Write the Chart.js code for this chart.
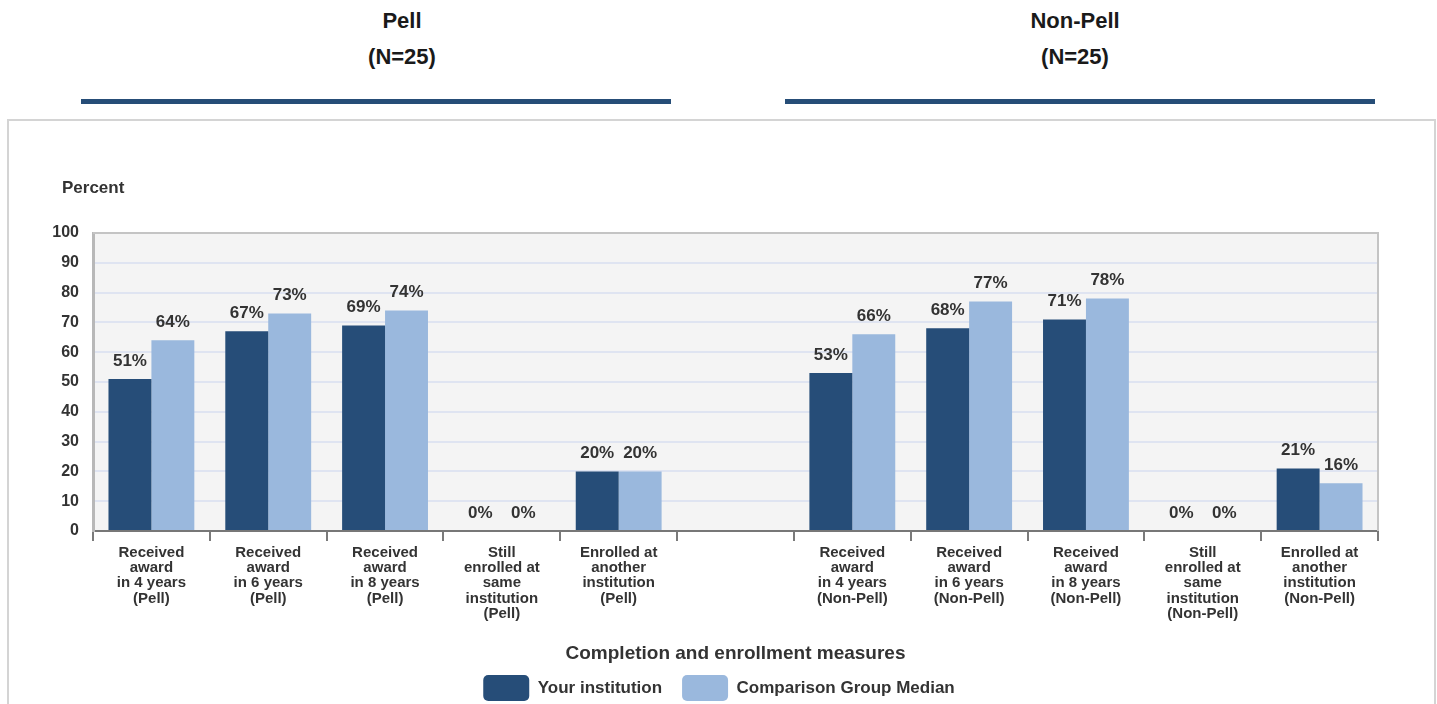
<!DOCTYPE html>
<html>
<head>
<meta charset="utf-8">
<script src="https://cdn.jsdelivr.net/npm/chart.js@4"></script>
<style>
  body { margin: 0; width: 1437px; height: 704px; background: #fff; overflow: hidden;
         font-family: "Liberation Sans", Arial, sans-serif; color: #1a1a1a; }
  .head { position: absolute; width: 300px; text-align: center; font-weight: bold; font-size: 22px; line-height: 36px; }
  .rule { position: absolute; top: 99px; height: 5px; width: 590px; background: #264d77; }
  #box { position: absolute; left: 7px; top: 119px; width: 1425px; height: 600px;
         border: 2px solid #d4d4d4; }
  #chart { position: absolute; left: 9px; top: 121px; }
</style>
</head>
<body>
<div class="head" style="left:252px; top:3px;">Pell<br>(N=25)</div>
<div class="head" style="left:925px; top:3px;">Non-Pell<br>(N=25)</div>
<div class="rule" style="left:81px;"></div>
<div class="rule" style="left:785px;"></div>
<div id="box"></div>
<canvas id="chart" width="1420" height="590"></canvas>
<script>
const categories = [
    ["Received", "award", "in 4 years", "(Pell)"],
    ["Received", "award", "in 6 years", "(Pell)"],
    ["Received", "award", "in 8 years", "(Pell)"],
    ["Still", "enrolled at", "same", "institution", "(Pell)"],
    ["Enrolled at", "another", "institution", "(Pell)"],
    "",
    ["Received", "award", "in 4 years", "(Non-Pell)"],
    ["Received", "award", "in 6 years", "(Non-Pell)"],
    ["Received", "award", "in 8 years", "(Non-Pell)"],
    ["Still", "enrolled at", "same", "institution", "(Non-Pell)"],
    ["Enrolled at", "another", "institution", "(Non-Pell)"],
];
const yourInstitution = [51, 67, 69, 0, 20, null, 53, 68, 71, 0, 21];
const comparisonMedian = [64, 73, 74, 0, 20, null, 66, 77, 78, 0, 16];
const yTicks = [0, 10, 20, 30, 40, 50, 60, 70, 80, 90, 100];

const FONT = "'Liberation Sans', Arial, sans-serif";
const TEXT = "#333333";

const plotFrame = {
    id: "plotFrame",
    beforeDraw(chart) {
        const { ctx, chartArea: a } = chart;
        ctx.save();
        ctx.fillStyle = "#f4f4f4";
        ctx.fillRect(a.left, a.top, a.right - a.left, a.bottom - a.top);
        ctx.restore();
    },
    afterDatasetsDraw(chart) {
        const { ctx, chartArea: a } = chart;
        ctx.save();
        ctx.strokeStyle = "#c4c4c4";
        ctx.lineWidth = 2;
        ctx.beginPath();
        ctx.moveTo(a.left, a.top);
        ctx.lineTo(a.right, a.top);
        ctx.lineTo(a.right, a.bottom);
        ctx.stroke();
        // value labels
        ctx.fillStyle = TEXT;
        ctx.font = "bold 17px " + FONT;
        ctx.textAlign = "center";
        ctx.textBaseline = "middle";
        chart.data.datasets.forEach((ds, i) => {
            chart.getDatasetMeta(i).data.forEach((el, j) => {
                const v = ds.data[j];
                if (v === null) return;
                ctx.fillText(v + "%", el.x, el.y - 18);
            });
        });
        // "Percent" heading over the y axis
        ctx.textAlign = "left";
        ctx.fillText("Percent", a.left - 31, a.top - 45);
        ctx.restore();
    },
};

new Chart(document.getElementById("chart"), {
    type: "bar",
    data: {
        labels: categories,
        datasets: [
            {
                label: "Your institution",
                data: yourInstitution,
                backgroundColor: "#264d78",
            },
            {
                label: "Comparison Group Median",
                data: comparisonMedian,
                backgroundColor: "#9ab8dd",
            },
        ],
    },
    options: {
        responsive: false,
        animation: false,
        categoryPercentage: 0.735,
        barPercentage: 1.0,
        layout: { padding: { top: 112, right: 0, left: 0, bottom: 0 } },
        plugins: {
            tooltip: { enabled: false },
            legend: {
                position: "bottom",
                labels: {
                    color: TEXT,
                    font: { family: FONT, size: 17, weight: "bold" },
                    boxWidth: 46,
                    boxHeight: 26,
                    useBorderRadius: true,
                    borderRadius: 5,
                    padding: 20,
                },
            },
        },
        scales: {
            x: {
                grid: {
                    offset: true,
                    drawOnChartArea: false,
                    drawTicks: true,
                    tickLength: 10,
                    color: "#7a7a7a",
                    lineWidth: 2,
                },
                border: { color: "#777777", width: 2 },
                ticks: {
                    color: TEXT,
                    font: { family: FONT, size: 15, weight: "bold", lineHeight: 1.02 },
                    maxRotation: 0,
                    autoSkip: false,
                    padding: 4,
                },
                title: {
                    display: true,
                    text: "Completion and enrollment measures",
                    color: TEXT,
                    font: { family: FONT, size: 19, weight: "bold" },
                    padding: { top: 18, bottom: -10 },
                },
                afterFit(scale) { scale.height = 124; },
            },
            y: {
                min: 0,
                max: 100,
                afterBuildTicks(scale) { scale.ticks = yTicks.map((v) => ({ value: v })); },
                grid: { color: "#dfe4f1", lineWidth: 2, drawTicks: false },
                border: { color: "#b8b8b8", width: 3 },
                ticks: {
                    color: TEXT,
                    font: { family: FONT, size: 16, weight: "bold" },
                    padding: 14,
                },
                afterFit(scale) { scale.width = 84; },
            },
            // empty right-hand axis: only reserves the margin right of the plot
            spacer: {
                type: "linear",
                position: "right",
                grid: { display: false },
                ticks: { display: false },
                border: { display: false },
                afterFit(scale) { scale.width = 51; },
            },
        },
    },
    plugins: [plotFrame],
});
</script>
</body>
</html>
